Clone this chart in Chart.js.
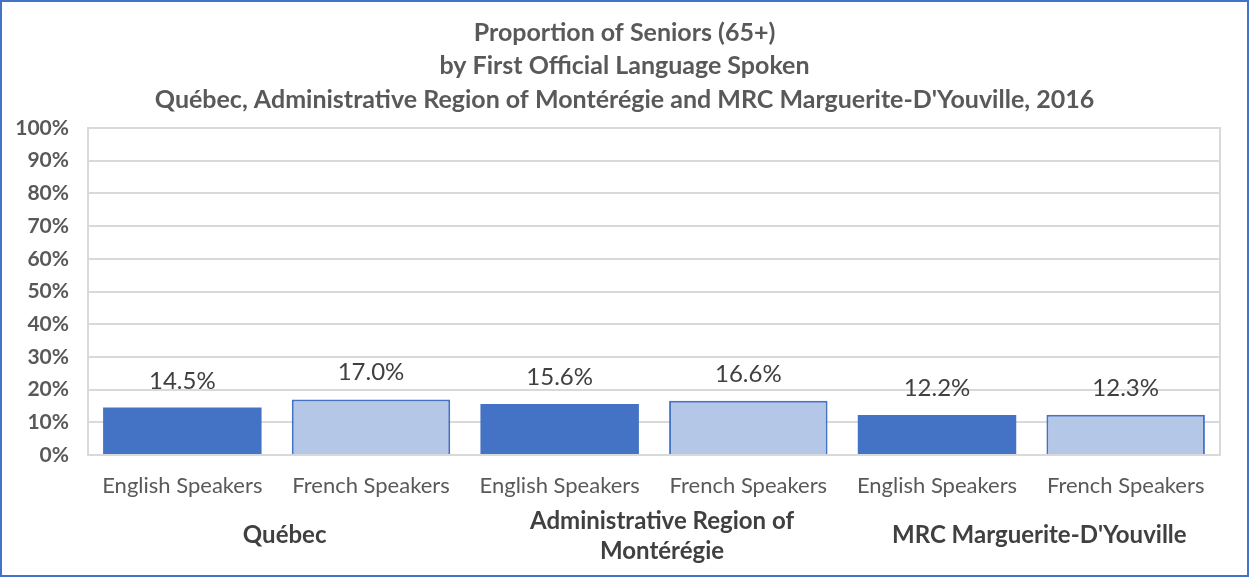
<!DOCTYPE html>
<html>
<head>
<meta charset="utf-8">
<script src="https://cdn.jsdelivr.net/npm/chart.js@4.4.1/dist/chart.umd.min.js"></script>
<style>
    body { margin: 0; background: #fff; }
    #frame { width: 1249px; height: 577px; box-sizing: border-box; border: 2px solid #4472C4; background: #fff; }
    canvas { display: block; }
</style>
</head>
<body>
<div id="frame"><canvas id="seniorsChart" width="1245" height="573"></canvas></div>
<script>
// Chart data
const titleLines = [
    'Proportion of Seniors (65+)',
    'by First Official Language Spoken',
    "Québec, Administrative Region of Montérégie and MRC Marguerite-D'Youville, 2016"
];
const categories = ['English Speakers', 'French Speakers', 'English Speakers', 'French Speakers', 'English Speakers', 'French Speakers'];
const groups = [['Québec'], ['Administrative Region of', 'Montérégie'], ["MRC Marguerite-D'Youville"]];
const seniorShare = [14.5, 17.0, 15.6, 16.6, 12.2, 12.3];
const yMin = 0;
const yMax = 100;
const yStep = 10;

const FONT = 'Lato, "Open Sans", sans-serif';
const DARK = '#4472C4';
const LIGHT = '#B4C7E7';

// Title, plot frame, value labels and group labels
const extrasPlugin = {
    id: 'extras',
    beforeDatasetsDraw(chart) {
        const { ctx, chartArea: a } = chart;
        ctx.save();
        ctx.strokeStyle = '#d9d9d9';
        ctx.lineWidth = 2;
        ctx.strokeRect(a.left, a.top, a.right - a.left, a.bottom - a.top);
        ctx.restore();
    },
    afterDraw(chart) {
        const { ctx } = chart;
        const xScale = chart.scales.x;
        ctx.save();

        // title
        ctx.fillStyle = '#595959';
        ctx.font = 'bold 25px ' + FONT;
        ctx.textAlign = 'center';
        ctx.textBaseline = 'middle';
        const titleY = [31, 64, 98];
        titleLines.forEach((line, i) => ctx.fillText(line, chart.width / 2, titleY[i]));

        // value labels
        ctx.fillStyle = '#404040';
        ctx.font = '24px ' + FONT;
        ctx.textBaseline = 'alphabetic';
        chart.getDatasetMeta(0).data.forEach((bar, i) => {
            ctx.fillText(seniorShare[i].toFixed(1) + '%', bar.x, bar.y - 19);
        });

        // group labels
        ctx.font = 'bold 24px ' + FONT;
        ctx.textBaseline = 'middle';
        groups.forEach((lines, g) => {
            const x = (xScale.getPixelForValue(g * 2) + xScale.getPixelForValue(g * 2 + 1)) / 2 + 8;
            const startY = lines.length === 1 ? 533 : 519;
            lines.forEach((line, j) => ctx.fillText(line, x, startY + j * 30));
        });
        ctx.restore();
    }
};

document.addEventListener('DOMContentLoaded', function() {
    const ctx = document.getElementById('seniorsChart').getContext('2d');
    new Chart(ctx, {
        type: 'bar',
        data: {
            labels: categories,
            datasets: [{
                data: seniorShare,
                backgroundColor: seniorShare.map((v, i) => i % 2 === 0 ? DARK : LIGHT),
                borderColor: DARK,
                borderWidth: seniorShare.map((v, i) => i % 2 === 0 ? 0 : 2),
                categoryPercentage: 1,
                barPercentage: 0.84
            }]
        },
        options: {
            responsive: false,
            animation: false,
            layout: { padding: { top: 126, right: 27, bottom: 0, left: 0 } },
            plugins: {
                legend: { display: false },
                tooltip: { enabled: false }
            },
            scales: {
                x: {
                    grid: { display: false, drawTicks: false },
                    border: { display: false },
                    ticks: {
                        color: '#595959',
                        font: { family: FONT, size: 22 },
                        padding: 18,
                        maxRotation: 0,
                        autoSkip: false
                    },
                    afterFit: function(scale) { scale.height = 120; }
                },
                y: {
                    min: yMin,
                    max: yMax,
                    grid: { color: '#d9d9d9', lineWidth: 2, drawTicks: false },
                    border: { display: false },
                    ticks: {
                        stepSize: yStep,
                        color: '#595959',
                        font: { family: FONT, size: 21, weight: 'bold' },
                        padding: 19,
                        callback: function(value) { return value + '%'; }
                    },
                    afterFit: function(scale) { scale.width = 86; }
                }
            }
        },
        plugins: [extrasPlugin]
    });
});
</script>
</body>
</html>
